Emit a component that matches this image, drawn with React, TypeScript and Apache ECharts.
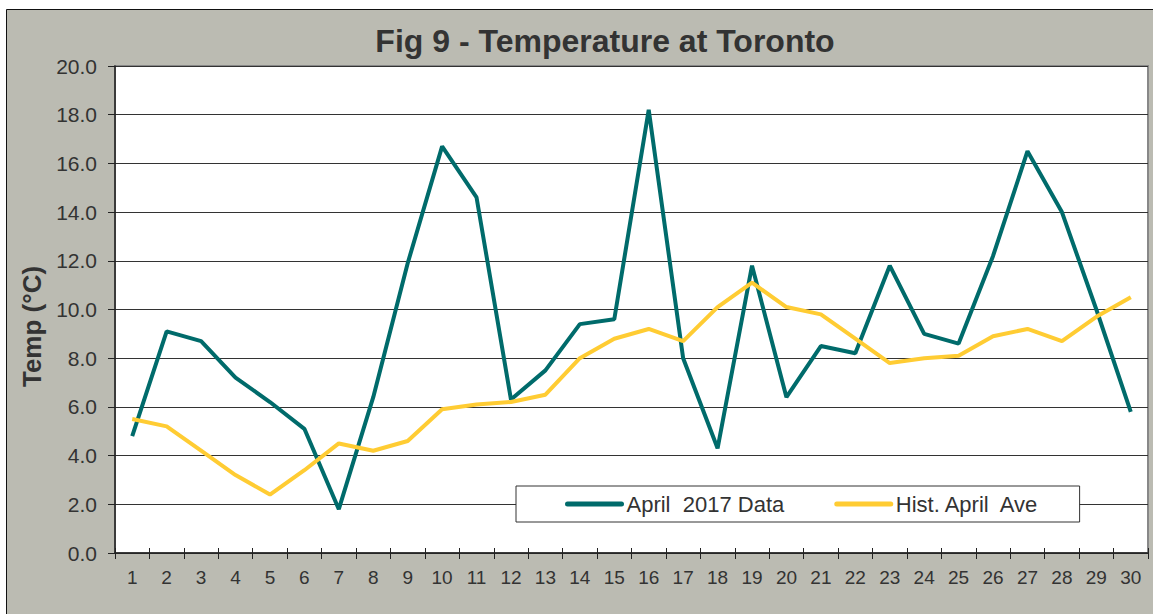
import React, { useEffect, useRef } from "react";
import * as echarts from "echarts";

const days = ["1", "2", "3", "4", "5", "6", "7", "8", "9", "10", "11", "12", "13", "14", "15", "16", "17", "18", "19", "20", "21", "22", "23", "24", "25", "26", "27", "28", "29", "30"];

const april2017 = [4.8, 9.1, 8.7, 7.2, 6.2, 5.1, 1.8, 6.4, 11.9, 16.7, 14.6, 6.3, 7.5, 9.4, 9.6, 18.2, 8.0, 4.3, 11.8, 6.4, 8.5, 8.2, 11.8, 9.0, 8.6, 12.2, 16.5, 14.0, 10.0, 5.8];

const histAprilAve = [5.5, 5.2, 4.2, 3.2, 2.4, 3.4, 4.5, 4.2, 4.6, 5.9, 6.1, 6.2, 6.5, 8.0, 8.8, 9.2, 8.7, 10.1, 11.1, 10.1, 9.8, 8.8, 7.8, 8.0, 8.1, 8.9, 9.2, 8.7, 9.7, 10.5];

const seriesNames = ["April  2017 Data", "Hist. April  Ave"];
const titleText = "Fig 9 - Temperature at Toronto";
const yAxisName = "Temp (°C)";

export default function App() {
  const ref = useRef<HTMLDivElement>(null);

  useEffect(() => {
    if (!ref.current) return;
    const chart = echarts.init(ref.current, undefined, { renderer: "svg" });
    const font = "'Liberation Sans', Arial, sans-serif";
    chart.setOption({
      animation: false,
      backgroundColor: "#ffffff",
      textStyle: { fontFamily: font },
      graphic: [
        {
          type: "rect",
          z: -10,
          silent: true,
          shape: { x: 6.5, y: 9.5, width: 1200, height: 700 },
          style: { fill: "#BBBBB2", stroke: "#111111", lineWidth: 1 },
        },
      ],
      title: {
        text: titleText,
        left: 605,
        top: 25,
        textAlign: "center",
        padding: 0,
        textStyle: { fontFamily: font, fontSize: 32, fontWeight: "bold", color: "#333333" },
      },
      legend: {
        left: 516,
        top: 486,
        orient: "horizontal",
        backgroundColor: "#ffffff",
        borderColor: "#333333",
        borderWidth: 1,
        padding: [7, 40, 7, 49],
        itemGap: 50,
        itemWidth: 54,
        itemHeight: 22,
        selectedMode: false,
        textStyle: { fontFamily: font, fontSize: 22, color: "#333333" },
        itemStyle: { opacity: 0 },
        lineStyle: { width: 5, cap: "round" },
        data: seriesNames,
      },
      grid: {
        left: 115,
        top: 66,
        width: 1033,
        height: 487,
        show: true,
        backgroundColor: "#ffffff",
        borderColor: "#888888",
        borderWidth: 2,
      },
      xAxis: [
        {
          type: "category",
          data: days,
          boundaryGap: true,
          axisLine: { show: true, lineStyle: { color: "#222222", width: 1.5 } },
          axisTick: { show: true, length: 6, lineStyle: { color: "#222222", width: 1 } },
          axisLabel: { fontSize: 19, color: "#333333", margin: 15, interval: 0, fontFamily: font },
          splitLine: { show: false },
        },
        {
          type: "category",
          data: days,
          position: "top",
          offset: -487,
          boundaryGap: true,
          axisLine: { show: false },
          axisTick: { show: true, length: 5, inside: false, lineStyle: { color: "#222222", width: 1 } },
          axisLabel: { show: false },
          splitLine: { show: false },
        },
      ],
      yAxis: {
        type: "value",
        min: 0,
        max: 20,
        interval: 2,
        name: yAxisName,
        nameLocation: "middle",
        nameGap: 64,
        nameTextStyle: {
          fontFamily: font,
          fontSize: 26,
          fontWeight: "bold",
          color: "#333333",
          padding: [0, 34, 0, 0],
        },
        axisLine: { show: true, lineStyle: { color: "#222222", width: 1.5 } },
        axisTick: { show: true, length: 7, lineStyle: { color: "#222222", width: 1 } },
        axisLabel: {
          fontSize: 21,
          color: "#333333",
          margin: 18,
          fontFamily: font,
          formatter: (v: number) => v.toFixed(1),
        },
        splitLine: { show: true, lineStyle: { color: "#333333", width: 1 } },
      },
      series: [
        {
          name: seriesNames[0],
          type: "line",
          data: april2017,
          xAxisIndex: 0,
          symbol: "none",
          lineStyle: { color: "#006B6B", width: 4 },
          itemStyle: { color: "#006B6B" },
        },
        {
          name: seriesNames[1],
          type: "line",
          data: histAprilAve,
          xAxisIndex: 0,
          symbol: "none",
          lineStyle: { color: "#FFCC33", width: 4 },
          itemStyle: { color: "#FFCC33" },
        },
      ],
    });
    return () => chart.dispose();
  }, []);

  return (
    <div
      ref={ref}
      style={{ position: "fixed", left: 0, top: 0, width: 1153, height: 614 }}
    />
  );
}
